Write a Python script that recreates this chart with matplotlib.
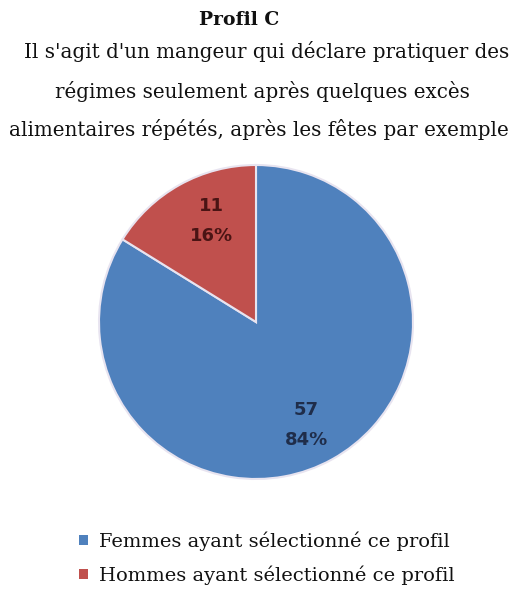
import matplotlib
matplotlib.use("Agg")
import matplotlib.pyplot as plt
from matplotlib.patches import Patch

categories = ["Femmes ayant sélectionné ce profil", "Hommes ayant sélectionné ce profil"]
counts = [57, 11]
colors = ["#4F81BD", "#C0504D"]
label_colors = ["#1F2D4A", "#4A1414"]
title = "Profil C"
subtitle_lines = ["Il s'agit d'un mangeur qui déclare pratiquer des",
                  "régimes seulement après quelques excès",
                  "alimentaires répétés, après les fêtes par exemple"]

W, H = 513, 594
fig = plt.figure(figsize=(W / 100, H / 100), dpi=100)
fig.patch.set_facecolor("white")

fig.text(239 / W, 1 - 20 / H, title, ha="center", va="center",
         family="DejaVu Serif", fontweight="bold", fontsize=13.5, color="#111111")
for line, yy, xx in zip(subtitle_lines, [52, 91, 129], [267, 262, 259]):
    fig.text(xx / W, 1 - yy / H, line, ha="center", va="center",
             family="DejaVu Serif", fontsize=14.3, color="#111111")

cx, cy, r = 256, 322, 157
ax = fig.add_axes([(cx - r) / W, 1 - (cy + r) / H, 2 * r / W, 2 * r / H])
total = sum(counts)
wedges, _ = ax.pie(counts, colors=colors, startangle=90, counterclock=False,
                   wedgeprops=dict(edgecolor="#E8E4F0", linewidth=1.5))
ax.set_aspect("auto")
ax.set_xlim(-1, 1)
ax.set_ylim(-1, 1)

pos = [((306 - cx) / r, (cy - 425) / r), ((211 - cx) / r, (cy - 221) / r)]
for (x, y), c, col in zip(pos, counts, label_colors):
    ax.text(x, y, f"{c}\n{round(100 * c / total)}%", ha="center", va="center",
            fontsize=13, fontweight="bold", color=col, family="DejaVu Sans",
            linespacing=1.85)

handles = [Patch(facecolor=c, edgecolor="none") for c in colors]
fig.legend(handles, categories, loc="center", bbox_to_anchor=(267 / W, 1 - 558 / H),
           frameon=False, prop=dict(family="DejaVu Serif", size=14),
           handlelength=0.45, handleheight=0.45, handletextpad=0.6, labelspacing=0.75,
           labelcolor="#111111")

fig.savefig("out.png", dpi=100)
